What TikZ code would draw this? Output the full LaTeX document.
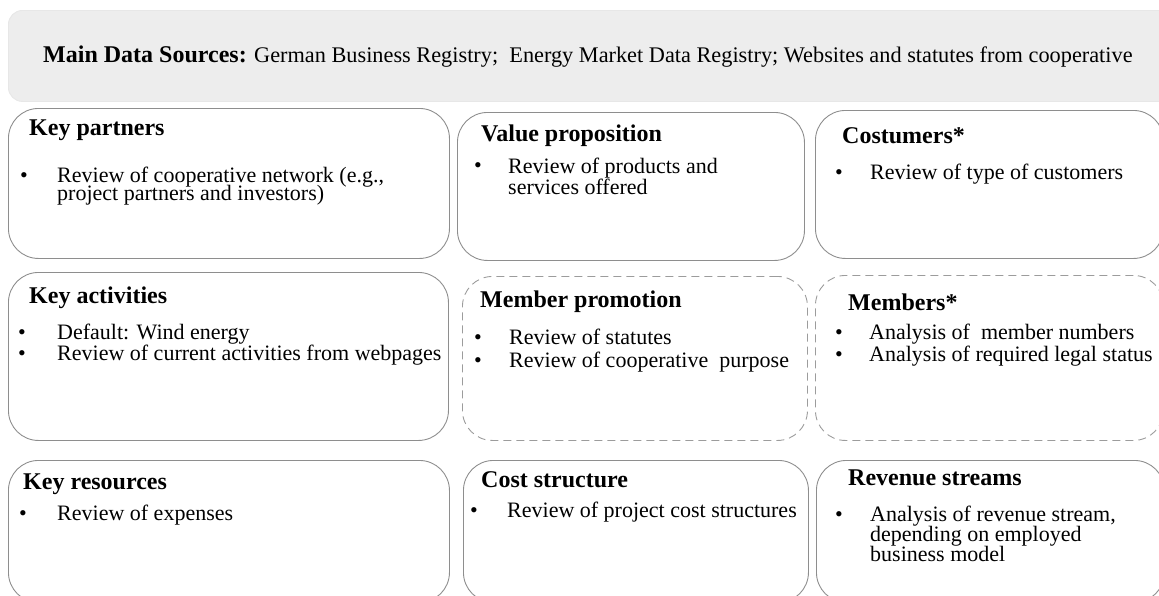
\documentclass[tikz,border=0pt]{standalone}
\usepackage{fontspec}
\setmainfont{Liberation Serif}

\definecolor{cellline}{HTML}{8E8E8E}
\definecolor{dashline}{HTML}{9C9C9C}
\definecolor{bannerfill}{HTML}{EDEDED}

\tikzset{
  cell/.style={draw=cellline, line width=0.9pt, rounded corners=30pt, anchor=north west, inner sep=0pt},
  loosecell/.style={cell, draw=dashline, dash pattern=on 8pt off 5pt},
  head/.style={anchor=base west, inner sep=0pt, font=\fontsize{24}{24}\selectfont\bfseries},
  txt/.style={anchor=base west, inner sep=0pt, align=left, font=\fontsize{22}{21}\selectfont},
  dot/.style={anchor=base west, inner sep=0pt, font=\fontsize{22}{21}\selectfont},
}

\begin{document}
\begin{tikzpicture}[x=1pt, y=-1pt]
\useasboundingbox (0,0) rectangle (1159,595);
\clip (0,0) rectangle (1159,595);

% banner
\node[cell, draw=bannerfill!80!gray!60, fill=bannerfill, rounded corners=14pt,
      minimum width=1180pt, minimum height=91pt] (sources) at (8,10) {};
\node[anchor=base west, inner sep=0pt, font=\fontsize{22.3}{22}\selectfont] (sources-t) at (43,62)
  {{\fontsize{24}{24}\selectfont\bfseries Main Data Sources:} German Business Registry;\ \ Energy Market Data Registry; Websites and statutes from cooperative};

% first row
\node[cell, minimum width=441pt, minimum height=150pt] (partners) at (8,108) {};
\node[cell, minimum width=347pt, minimum height=148pt] (value) at (457,112) {};
\node[cell, minimum width=348pt, minimum height=148pt] (customers) at (815,110) {};

\node[head] (partners-t) at (29,135) {Key partners};
\node[dot] (partners-b1) at (20,182) {\textbullet};
\node[txt] (partners-i1) at (57,200) {Review of cooperative network (e.g.,\\[-3pt]project partners and investors)};

\node[head] (value-t) at (481,141) {Value proposition};
\node[dot] (value-b1) at (474,172) {\textbullet};
\node[txt] (value-i1) at (508,194) {Review of products and\\services offered};

\node[head] (customers-t) at (842,143) {Costumers*};
\node[dot] (customers-b1) at (835,179) {\textbullet};
\node[txt] (customers-i1) at (870,179) {Review of type of customers};

% second row
\node[cell, minimum width=440pt, minimum height=168pt] (activities) at (8,272) {};
\node[loosecell, minimum width=345pt, minimum height=164pt] (promotion) at (462,276) {};
\node[loosecell, minimum width=348pt, minimum height=165pt] (members) at (815,275) {};

\node[head] (activities-t) at (29,303) {Key activities};
\node[dot] (activities-b1) at (18,339) {\textbullet};
\node[txt] (activities-i1) at (57,339) {Default: Wind energy};
\node[dot] (activities-b2) at (18,360) {\textbullet};
\node[txt] (activities-i2) at (57,360) {Review of current activities from webpages};

\node[head] (promotion-t) at (480,307) {Member promotion};
\node[dot] (promotion-b1) at (474,344) {\textbullet};
\node[txt] (promotion-i1) at (509,344) {Review of statutes};
\node[dot] (promotion-b2) at (474,367) {\textbullet};
\node[txt] (promotion-i2) at (509,367) {Review of cooperative\ \ purpose};

\node[head] (members-t) at (848,310) {Members*};
\node[dot] (members-b1) at (835,339) {\textbullet};
\node[txt] (members-i1) at (869,339) {Analysis of\ \ member numbers};
\node[dot] (members-b2) at (835,361) {\textbullet};
\node[txt] (members-i2) at (869,361) {Analysis of required legal status};

% third row
\node[cell, minimum width=441pt, minimum height=142pt] (resources) at (8,460) {};
\node[cell, minimum width=345pt, minimum height=142pt] (coststr) at (463,460) {};
\node[cell, minimum width=348pt, minimum height=142pt] (revenue) at (816,460) {};

\node[head] (resources-t) at (23,489) {Key resources};
\node[dot] (resources-b1) at (19,520) {\textbullet};
\node[txt] (resources-i1) at (57,520) {Review of expenses};

\node[head] (coststr-t) at (481,487) {Cost structure};
\node[dot] (coststr-b1) at (470,517) {\textbullet};
\node[txt] (coststr-i1) at (507,517) {Review of project cost structures};

\node[head] (revenue-t) at (848,485) {Revenue streams};
\node[dot] (revenue-b1) at (835,521) {\textbullet};
\node[txt] (revenue-i1) at (870,561) {Analysis of revenue stream,\\[-1pt]depending on employed\\[-1pt]business model};
\end{tikzpicture}
\end{document}
